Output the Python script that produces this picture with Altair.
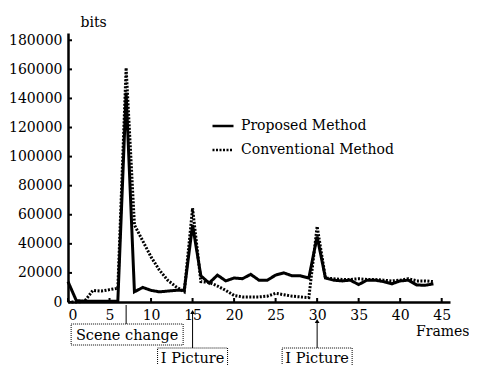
import altair as alt
import pandas as pd

# ---------------- data ----------------
frames = list(range(45))
proposed = [14000, 1000, 500, 500, 500, 500, 500, 144000, 7000, 10000,
            8000, 7000, 7500, 8000, 8000, 53000, 18000, 13000, 18500, 14500,
            16500, 16000, 19000, 15000, 15000, 18500, 20000, 18000, 18000, 16500,
            45000, 16500, 15000, 14500, 15000, 12000, 15000, 15000, 14000, 12500,
            14500, 15000, 11700, 11500, 12500]
conventional = [0, 0, 500, 8000, 7500, 8500, 9500, 161000, 53000, 42000,
                31000, 22000, 15000, 10500, 7000, 64500, 14000, 13500, 11000, 8000,
                4500, 3500, 3500, 3500, 4000, 6000, 5000, 4000, 3500, 3000,
                52000, 16500, 16000, 15500, 15500, 16000, 15500, 15500, 15000, 14500,
                15000, 16000, 14500, 14500, 14000]
methods = ["Proposed Method", "Conventional Method"]
x_ticks = [0, 5, 10, 15, 20, 25, 30, 35, 40, 45]
y_ticks = [0, 20000, 40000, 60000, 80000, 100000, 120000, 140000, 160000, 180000]
scene_label = ["Scene change"]
scene_frame = [7]
ipic_labels = ["I Picture", "I Picture"]
ipic_frames = [15, 30]

df = pd.DataFrame({
    "Frame": frames * 2,
    "Bits": proposed + conventional,
    "Method": [methods[0]] * len(frames) + [methods[1]] * len(frames),
})

FONT = "DejaVu Serif"
W, H = 382, 269

xscale = alt.Scale(domain=[0, 46], nice=False, zero=False)
yscale = alt.Scale(domain=[0, 185000], nice=False)

x_axis = alt.Axis(values=x_ticks, title="Frames", grid=False, ticks=False, tickSize=0,
                  labelPadding=6, labelFont=FONT, labelFontSize=14, labelColor="black",
                  domainColor="black", domainWidth=2.5,
                  titleFont=FONT, titleFontSize=14, titleFontWeight="normal", titleColor="black",
                  titleAlign="right", titleBaseline="alphabetic", titleX=401, titleY=33)
y_axis = alt.Axis(values=y_ticks, format="d", title="bits", grid=False, ticks=False, tickSize=0,
                  labelPadding=6, labelFont=FONT, labelFontSize=14, labelColor="black",
                  domainColor="black", domainWidth=2.5,
                  titleFont=FONT, titleFontSize=14, titleFontWeight="normal", titleColor="black",
                  titleAngle=0, titleAlign="left", titleBaseline="alphabetic",
                  titleX=12, titleY=-7)


def X(field):
    return alt.X(field, scale=xscale, axis=x_axis, title="Frames")


def Y(field):
    return alt.Y(field, scale=yscale, axis=y_axis, title="bits")


lines = alt.Chart(df).mark_line(color="black", strokeWidth=3).encode(
    x=X("Frame:Q"),
    y=Y("Bits:Q"),
    strokeDash=alt.StrokeDash(
        "Method:N",
        scale=alt.Scale(domain=methods, range=[[1, 0], [2, 1.5]]),
        legend=alt.Legend(title=None, orient="none", legendX=143, legendY=81, padding=0,
                          symbolType="stroke", symbolSize=441, symbolStrokeWidth=2.5,
                          symbolStrokeColor="black", labelFont=FONT, labelFontSize=14,
                          labelColor="black", labelOffset=6, rowPadding=5),
    ),
)

xt = alt.Chart(pd.DataFrame({"t": x_ticks})).mark_rule(color="black", strokeWidth=2).encode(
    x=X("t:Q"), y=alt.value(H), y2=alt.value(H - 4))
yt = alt.Chart(pd.DataFrame({"t": y_ticks})).mark_rule(color="black", strokeWidth=2).encode(
    y=Y("t:Q"), x=alt.value(0), x2=alt.value(4))

scene_df = pd.DataFrame({"f": scene_frame, "label": scene_label})
ip1_df = pd.DataFrame({"f": ipic_frames[:1], "label": ipic_labels[:1]})
ip2_df = pd.DataFrame({"f": ipic_frames[1:], "label": ipic_labels[1:]})

scene_line = alt.Chart(scene_df).mark_rule(color="black", strokeWidth=1).encode(
    x=X("f:Q"), y=alt.value(272), y2=alt.value(291))
scene_box = alt.Chart(scene_df).mark_rect(fill="white", stroke="black", strokeWidth=1,
                                          strokeDash=[1, 1], xOffset=-55, x2Offset=57).encode(
    x=X("f:Q"), x2="f:Q", y=alt.value(291), y2=alt.value(312))
scene_text = alt.Chart(scene_df).mark_text(font=FONT, fontSize=14.5, color="black",
                                           baseline="middle", align="center", dx=1, dy=1).encode(
    x=X("f:Q"), y=alt.value(301.5), text="label:N")


def ipic_layers(d, top):
    line = alt.Chart(d).mark_rule(color="black", strokeWidth=1).encode(
        x=X("f:Q"), y=alt.value(top), y2=alt.value(315))
    head = alt.Chart(d).mark_point(shape="triangle-up", filled=True, size=22,
                                   color="black", opacity=1).encode(
        x=X("f:Q"), y=alt.value(top))
    box = alt.Chart(d).mark_rect(fill="white", stroke="black", strokeWidth=1,
                                 strokeDash=[1, 1], xOffset=-35, x2Offset=35).encode(
        x=X("f:Q"), x2="f:Q", y=alt.value(315), y2=alt.value(336))
    text = alt.Chart(d).mark_text(font=FONT, fontSize=14.5, color="black",
                                  baseline="middle", align="center", dy=1).encode(
        x=X("f:Q"), y=alt.value(325), text="label:N")
    return [line, head, box, text]


chart = alt.layer(
    lines, xt, yt, scene_line, scene_box, scene_text,
    *ipic_layers(ip1_df, 279), *ipic_layers(ip2_df, 288)
).properties(
    width=W, height=H,
    autosize=alt.AutoSizeParams(type="none"),
    padding={"left": 60, "top": 25, "right": 19, "bottom": 70},
    background="white",
).configure_view(stroke=None)

chart.save("out.html", embed_options={"renderer": "svg", "actions": False})
